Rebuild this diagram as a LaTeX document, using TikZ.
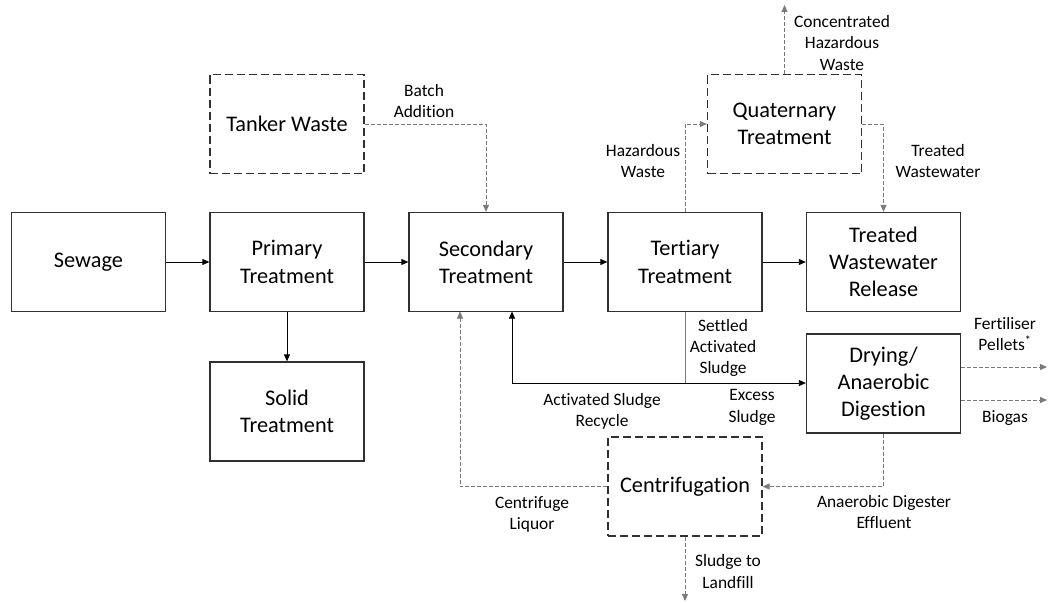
\documentclass[tikz,border=0pt]{standalone}
\usepackage{fontspec}
\setmainfont[Ligatures=NoCommon]{Carlito}
\usetikzlibrary{arrows.meta}
\definecolor{boxline}{HTML}{303030}
\definecolor{dashline}{HTML}{7A7A7A}
\tikzset{
  x=1pt, y=-1pt,
  procbox/.style={draw=boxline, line width=1.3pt, minimum width=154pt, minimum height=99pt, inner sep=0pt, align=center, font=\fontsize{22.3}{27.2}\selectfont},
  optbox/.style={procbox, dash pattern=on 8pt off 4pt},
  lbl/.style={inner sep=0pt, align=center, font=\fontsize{17.4}{21.2}\selectfont},
  tip/.style={-{Triangle[length=7pt,width=6pt]}},
  flow/.style={draw=black, line width=0.8pt, tip},
  dflow/.style={draw=dashline, line width=0.9pt, dash pattern=on 4pt off 2pt, tip},
  gline/.style={draw=dashline, line width=0.9pt},
}
\begin{document}
\begin{tikzpicture}
\useasboundingbox (0,0) rectangle (1048,602);
% boxes
\node[procbox] (sewage) at (88.5,262) {Sewage};
\node[procbox] (primary) at (287,262) {Primary\\Treatment};
\node[procbox] (secondary) at (486,262) {Secondary\\Treatment};
\node[procbox] (tertiary) at (685,262) {Tertiary\\Treatment};
\node[procbox] (treated) at (883.5,262) {Treated\\Wastewater\\Release};
\node[procbox] (solid) at (287,411.5) {Solid\\Treatment};
\node[optbox] (tanker) at (287,124) {Tanker Waste};
\node[optbox] (quat) at (784.5,124) {Quaternary\\Treatment};
\node[procbox] (drying) at (883.5,383.5) {Drying/\\Anaerobic\\Digestion};
\node[optbox] (centri) at (685,486.5) {Centrifugation};
% coordinates
\coordinate (concout) at (784.5,5);
\coordinate (sjunc) at (685,383);
\coordinate (recycin) at (512,311.5);
\coordinate (liqin) at (460,311.5);
\coordinate (landfill) at (685,601);
\coordinate (fertout) at (1047,367);
\coordinate (biogasout) at (1047,400);
% main flows
\draw[flow] (sewage) -- (primary);
\draw[flow] (primary) -- (secondary);
\draw[flow] (secondary) -- (tertiary);
\draw[flow] (tertiary) -- (treated);
\draw[flow] (primary) -- (solid);
% optional flows
\draw[dflow] (tanker.east) -| (secondary.north);
\draw[dflow] (tertiary.north) |- (quat.west);
\draw[dflow] (quat.east) -| (treated.north);
\draw[dflow] (quat.north) -- (concout);
% sludge
\draw[gline] (tertiary.south) -- (sjunc);
\draw[flow] (sjunc) -- (drying.west |- sjunc);
\draw[flow] (sjunc) -| (recycin);
\draw[dflow] (centri.west) -| (liqin);
\draw[dflow] (drying.south) |- (centri.east);
\draw[dflow] (centri.south) -- (landfill);
\draw[dflow] (drying.east |- fertout) -- (fertout);
\draw[dflow] (drying.east |- biogasout) -- (biogasout);
% labels
\node[lbl] (lbatch) at (424,101) {Batch\\Addition};
\node[lbl] (lhaz) at (643,161) {Hazardous\\Waste};
\node[lbl] (lconc) at (842,43) {Concentrated\\Hazardous\\Waste};
\node[lbl] (ltreat) at (938,161) {Treated\\Wastewater};
\node[lbl] (lsettled) at (723,348) {Settled\\Activated\\Sludge};
\node[lbl] (lrecyc) at (602,411.5) {Activated Sludge\\Recycle};
\node[lbl] (lexcess) at (752,407.5) {Excess\\Sludge};
\node[lbl] (lliq) at (532,514.5) {Centrifuge\\Liquor};
\node[lbl] (leff) at (884,512) {Anaerobic Digester\\Effluent};
\node[lbl] (lland) at (728,571.5) {Sludge to\\Landfill};
\node[lbl] (lfert) at (1005,334) {Fertiliser\\Pellets\textsuperscript{*}};
\node[lbl] (lbiogas) at (1005,418) {Biogas};
\end{tikzpicture}
\end{document}
